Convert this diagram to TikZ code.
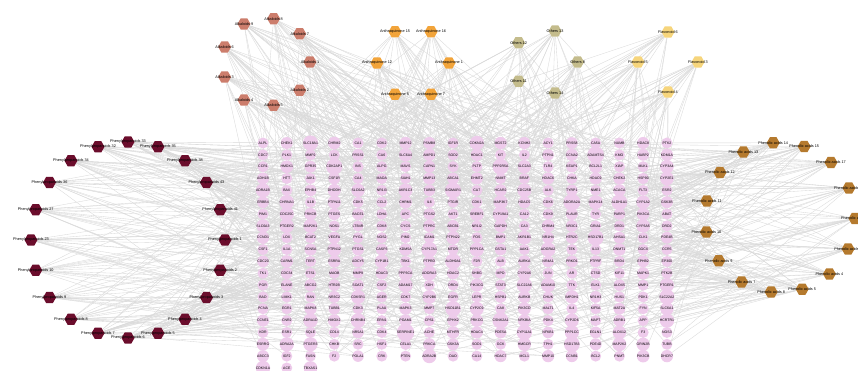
\documentclass[tikz,border=0pt]{standalone}
\usepackage{fontspec}
\setmainfont{Liberation Sans}
\usetikzlibrary{shapes.geometric,backgrounds}
\definecolor{alkcol}{HTML}{CC7D6C}
\definecolor{anthcol}{HTML}{F2A43A}
\definecolor{othcol}{HTML}{C4BC8C}
\definecolor{flavcol}{HTML}{F6D57C}
\definecolor{ppcol}{HTML}{6B0D2C}
\definecolor{pacol}{HTML}{B57A2E}
\definecolor{tgtcol}{HTML}{EECBEB}
\definecolor{edgecol}{HTML}{DADADA}
\begin{document}
\begin{tikzpicture}[x=1pt,y=-1pt,
  comp/.style={regular polygon,regular polygon sides=6,minimum size=13pt,inner sep=0pt,draw=none,fill=#1},
  clab/.style={font=\fontsize{3.8}{4}\selectfont,text=black,inner sep=0pt},
  tgt/.style={circle,fill=tgtcol,minimum size=11pt,inner sep=0pt,font=\fontsize{3.5}{4}\selectfont,text=black},
  link/.style={draw=edgecol,line width=0.35pt}]
\useasboundingbox (0,0) rectangle (858,371);

% Alkaloids
\foreach \a/\l [count=\k] in {0/Alkaloids 1,40/Alkaloids 7,80/Alkaloids 8,120/Alkaloids 9,160/Alkaloids 6,200/Alkaloids 3,240/Alkaloids 4,280/Alkaloids 5,320/Alkaloids 2}
  {\node[comp=alkcol,label={[clab]center:\l}] (al\k) at ({266+44*cos(\a)},{62-44*sin(\a)}) {};}
% Anthraquinones
\foreach \a/\l [count=\k] in {0/Anthraquinone 1,60/Anthraquinone 16,120/Anthraquinone 15,180/Anthraquinone 12,240/Anthraquinone 5,300/Anthraquinone 7}
  {\node[comp=anthcol,label={[clab]center:\l}] (an\k) at ({413+36*cos(\a)},{63-36*sin(\a)}) {};}
% Others
\foreach \a/\l [count=\k] in {0/Others 8,72/Others 13,144/Others 12,216/Others 11,288/Others 14}
  {\node[comp=othcol,label={[clab]center:\l}] (ot\k) at ({545+32.6*cos(\a)},{62-32.6*sin(\a)}) {};}
% Flavonoids
\foreach \a/\l [count=\k] in {0/Flavonoid 3,90/Flavonoid 6,180/Flavonoid 5,270/Flavonoid 4}
  {\node[comp=flavcol,label={[clab]center:\l}] (fl\k) at ({668+30*cos(\a)},{62-30*sin(\a)}) {};}
% Phenylpropanoids
\foreach \a/\l [count=\k] in {0/Phenylpropanoids 1,18/Phenylpropanoids 41,36/Phenylpropanoids 43,54/Phenylpropanoids 38,72/Phenylpropanoids 35,90/Phenylpropanoids 33,108/Phenylpropanoids 32,126/Phenylpropanoids 34,144/Phenylpropanoids 36,162/Phenylpropanoids 27,180/Phenylpropanoids 23,198/Phenylpropanoids 10,216/Phenylpropanoids 9,234/Phenylpropanoids 8,252/Phenylpropanoids 7,270/Phenylpropanoids 6,288/Phenylpropanoids 5,306/Phenylpropanoids 4,324/Phenylpropanoids 3,342/Phenylpropanoids 2}
  {\node[comp=ppcol,label={[clab]center:\l}] (pp\k) at ({128+97*cos(\a)},{240-98*sin(\a)}) {};}
% Phenolic acids
\foreach \a/\l [count=\k] in {0/Phenolic acids 2,24/Phenolic acids 16,48/Phenolic acids 17,72/Phenolic acids 15,96/Phenolic acids 14,120/Phenolic acids 13,144/Phenolic acids 12,168/Phenolic acids 11,192/Phenolic acids 10,216/Phenolic acids 9,240/Phenolic acids 7,264/Phenolic acids 8,288/Phenolic acids 5,312/Phenolic acids 4,336/Phenolic acids 3}
  {\node[comp=pacol,label={[clab]center:\l}] (pa\k) at ({780+75*cos(\a-0.8)},{217.5-75*sin(\a-0.8)}) {};}

% Targets
\foreach \row [count=\r from 0] in {
 {ALPL,CHEK1,SLC18A1,CHRM2,CA1,CDK2,MMP12,PSMB8,IGF1R,CDKN2A,MGST2,KCNH2,ACY1,PRSS8,CA5A,NUMB,HDAC8,PTK2},
 {CDC7,PLK1,MMP2,LCK,PRSS1,CA6,SLC6A4,AMPD1,SOD2,HDAC1,KIT,IL2,PTPN1,CCNA2,ADAMTS4,KMO,HABP2,KDM1A},
 {CCR1,HMOX1,GPR35,CDK2AP1,INS,ALPG,MAVS,CAPN1,SYK,PLTP,PPP2R5A,SLC2A3,TLR4,KEAP1,BCL2L1,XIAP,MLKL,CYP3A4},
 {ADH1B,HTT,JAK1,CSF1R,CA4,MAOA,SIAH1,MMP13,ABCA1,EHMT2,NNMT,BRAF,HDAC6,CHKA,HDAC9,CHEK2,HSP90,CYP2E1},
 {ADRA1B,BAX,EPHB4,DHODH,SLC6A2,NR1I3,AKR1C3,TUBB3,SIGMAR1,CA7,HCAR2,CDC25B,ALK,TYRP1,NME1,ACACA,FLT3,ESR2},
 {ERBB4,CHRNA1,IL1B,PTPN11,CDK5,CCL2,CHRM1,IL6,PTGIR,CDK1,MAP3K7,HDAC5,CDK6,ADORA2A,MAPK14,ALDH1A1,CYP1A2,GSK3B},
 {PIM1,CDC25C,PRKCB,PTGES,BACE1,LDHA,APC,PTGS2,AKT1,SREBF1,CYP19A1,CA12,CDK9,PLAUR,TYR,PARP1,PIK3CA,ABAT},
 {SLC6A3,PTGER2,MAP2K1,NOS1,LTB4R,CDK8,CYCS,PTPRC,ABCB1,NR1I2,GAPDH,CA3,CHRM4,NR3C1,GRIA1,DRD1,CYP3A5,DRD2},
 {CCND1,LOX,BCAT2,VEGFA,PYGL,NOS2,PIM2,ICAM1,PTPN22,FOS,BMP1,AKR1B1,NR1H4,HTR2C,HSD17B1,AHSA1,CLK1,PDE4B},
 {CSF1,IL1A,SCN5A,PTPN12,PTGS1,CASP3,KDM5A,CYP17A1,MTOR,PPP1CA,GSTA1,AAK1,ADGRA2,TEK,IL13,DNMT1,GGCX,CCR5},
 {CDC20,CARM1,TERT,ESRRA,ADCY5,CYP1B1,TBK1,PTPRD,ALDH9A1,F2R,ALB,AURKA,NR4A1,PRKD1,PTPRF,BRD4,EPHB2,EP300},
 {TK1,CDC34,ETS1,MAOB,MMP9,HDAC3,PPP3CA,ADORA3,HDAC2,SHBG,MPO,CYP2A6,JUN,AR,CTSD,KIF11,MAPK1,PTK2B},
 {PGR,ELANE,ABCG2,HTR2B,SOAT1,CSF2,ADAM17,XDH,DRD4,PIK3CG,STAT3,SLC22A6,ADAM10,TTK,ELK1,ALOX5,MMP1,PTGER1},
 {BAD,LIMK1,RAN,NR3C2,CDK5R1,AGER,CDK7,CYP2B6,EGFR,LEPR,HSPB1,AURKB,CHUK,IMPDH1,NR1H3,HUS1,PDK1,SLC22A2},
 {PCNA,EGR1,MAPK8,TUBB1,CDK3,PLAU,MAPK3,MMP7,HSD11B1,CYP2C9,CA8,PIK3CD,MALT1,IL4,KIF5A,MAT2A,FYN,SLC6A1},
 {CCNE1,CNR2,ADRA1D,HMOX2,CHRNB4,ERN1,PGAM1,CPS1,EPHX2,PRKCG,CSNK2A1,NFKBIA,PDK4,CYP2D6,MAPT,ADRB1,APP,HCRTR1},
 {KDR,ESR1,SQLE,CD14,NR5A1,CDK4,SERPINE1,ACHE,MTHFR,HDAC4,PDE5A,CYP11A1,NFKB1,PPP1CC,EGLN1,ALOX12,F3,NOS3},
 {ESRRG,ADRA2A,PTGER3,CHKB,SRC,HSF1,CELA1,PRKCA,GSK3A,SOD1,GCK,HMGCR,TPH1,HSD17B3,PDE4D,MAP2K2,GRIN2B,TUBB},
 {ABCC3,IGF2,FASN,F2,POLA1,CRK,PTEN,ADRA2B,DAO,CA14,HDAC7,MCL1,MMP10,CCNB1,BCL2,PNMT,PIK3CB,DHCR7},
 {CDKN1A,ACE,TBXAS1}}
 {\foreach \nm [count=\c from 0] in \row
   {\node[tgt] (t-\r-\c) at ({263+23.76*\c},{143+11.84*\r}) {\nm};}}

% Connectors
\begin{pgfonlayer}{background}
\fill[white] (0,0) rectangle (858,371);
\pgfmathsetseed{4242}
\foreach \g/\cnt/\lo/\hi in {al/9/0/17,an/6/0/17,ot/5/0/17,fl/4/0/17,pp/20/0/13,pa/15/4/17}{
  \foreach \k in {1,...,\cnt}{
    \foreach \e in {1,...,16}{
      \pgfmathrandominteger{\tr}{0}{18}
      \pgfmathrandominteger{\tc}{\lo}{\hi}
      \draw[link] (\g\k) -- (t-\tr-\tc);
    }
  }
}
\end{pgfonlayer}
\end{tikzpicture}
\end{document}
